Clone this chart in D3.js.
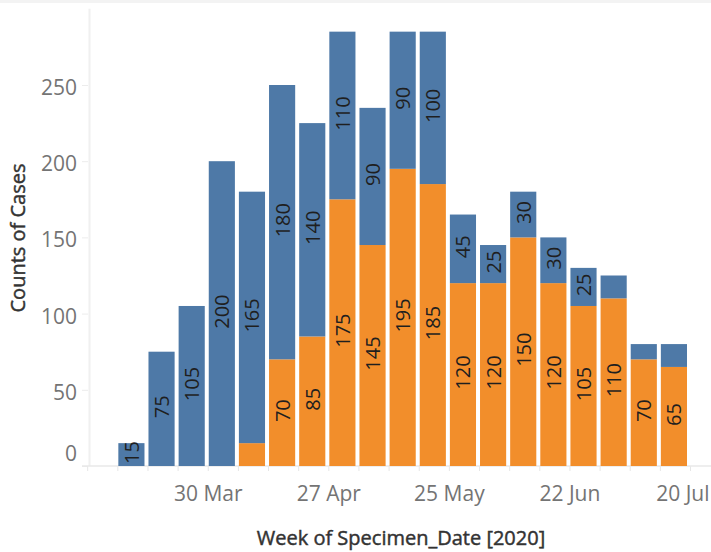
<!DOCTYPE html>
<html>
<head>
<meta charset="utf-8">
<script src="https://cdn.jsdelivr.net/npm/d3@7"></script>
<style>
  html, body { margin: 0; padding: 0; background: #fff; }
  svg { display: block; }
  text { font-family: "Open Sans", "Noto Sans", sans-serif; }
</style>
</head>
<body>
<svg id="chart" width="711" height="552"></svg>
<script>
// ---- data ----
const weeks = ["2020-03-09","2020-03-16","2020-03-23","2020-03-30","2020-04-06","2020-04-13",
  "2020-04-20","2020-04-27","2020-05-04","2020-05-11","2020-05-18","2020-05-25","2020-06-01",
  "2020-06-08","2020-06-15","2020-06-22","2020-06-29","2020-07-06","2020-07-13"];
const orangeValues = [0, 0, 0, 0, 15, 70, 85, 175, 145, 195, 185, 120, 120, 150, 120, 105, 110, 70, 65];
const blueValues   = [15, 75, 105, 200, 165, 180, 140, 110, 90, 90, 100, 45, 25, 30, 30, 25, 15, 10, 15];
const yTicks = [0, 50, 100, 150, 200, 250];
const xTickLabels = ["2020-03-30","2020-04-27","2020-05-25","2020-06-22","2020-07-20"];
const yTitle = "Counts of Cases";
const xTitle = "Week of Specimen_Date [2020]";

const BLUE = "#4e79a7", ORANGE = "#f28e2b";
const parse = d3.utcParse("%Y-%m-%d");
const svg = d3.select("#chart");

// top strip
svg.append("rect").attr("x", 0).attr("y", 0).attr("width", 711).attr("height", 3).attr("fill", "#f3f3f3");

const x = d3.scaleUtc().domain([parse("2020-03-02"), parse("2020-07-20")]).range([87.2, 690]);
const y = d3.scaleLinear().domain([0, 300]).range([466, 8.8]);

// axis lines
svg.append("line").attr("x1", 89.5).attr("x2", 89.5).attr("y1", y(300)).attr("y2", 466)
  .attr("stroke", "#f0f0f0").attr("stroke-width", 2);

// y axis
const yAxis = d3.axisLeft(y).tickValues(yTicks).tickSize(6).tickPadding(6).tickFormat(d3.format("d"));
const gy = svg.append("g").attr("transform", "translate(88,0)").call(yAxis);
gy.select(".domain").remove();
gy.selectAll(".tick line").attr("stroke", "#ececec");
gy.selectAll(".tick text").attr("fill", "#747474").style("font-size", "21px")
  .attr("x", -11).attr("dy", "0.36em")
  .attr("transform", d => d === 0 ? "translate(0,-13)" : "translate(0,2)");

// x axis (weekly ticks)
const weekTicks = d3.utcMonday.range(parse("2020-03-02"), parse("2020-07-21"));
const labelSet = new Set(xTickLabels);
const fmt = d3.utcFormat("%Y-%m-%d");
const xAxis = d3.axisBottom(x).tickValues(weekTicks).tickSize(5).tickPadding(15)
  .tickFormat(d => labelSet.has(fmt(d)) ? d3.utcFormat("%-d %b")(d) : "");
const gx = svg.append("g").attr("transform", "translate(0,466)").call(xAxis);
gx.select(".domain").remove();
gx.selectAll(".tick line").attr("stroke", "#e6e6e6");
gx.selectAll(".tick text").attr("fill", "#747474").style("font-size", "21px")
  .each(function(d) {
    // keep the last label inside the frame, as the reference does
    if (fmt(d) === xTickLabels[xTickLabels.length - 1]) {
      const t = d3.select(this);
      const w = this.getComputedTextLength();
      const tx = x(d);
      if (tx + w / 2 > 709) t.attr("text-anchor", "end").attr("x", 709 - tx);
    }
  });
svg.append("line").attr("x1", 82).attr("x2", 711).attr("y1", 466).attr("y2", 466)
  .attr("stroke", "#e8e8e8").attr("stroke-width", 1.5);

// bars
const data = weeks.map((w, i) => ({ date: parse(w), orange: orangeValues[i], blue: blueValues[i] }));
const barX = d => x(d.date) + 1;
const barW = d => x(d3.utcDay.offset(d.date, 7)) - x(d.date) - 4;

const gBars = svg.append("g");
gBars.selectAll("rect.o").data(data).join("rect").attr("class", "o")
  .attr("x", barX).attr("width", barW)
  .attr("y", d => y(d.orange)).attr("height", d => y(0) - y(d.orange))
  .attr("fill", ORANGE);
gBars.selectAll("rect.b").data(data).join("rect").attr("class", "b")
  .attr("x", barX).attr("width", barW)
  .attr("y", d => y(d.orange + d.blue)).attr("height", d => y(d.orange) - y(d.orange + d.blue))
  .attr("fill", BLUE);

// labels
const labels = [];
data.forEach(d => {
  if (d.orange > 0 && (d.orange >= 20 || d.blue === 0))
    labels.push({ d, v: d.orange, lo: 0, hi: d.orange });
  if (d.blue > 0 && (d.blue >= 20 || d.orange === 0))
    labels.push({ d, v: d.blue, lo: d.orange, hi: d.orange + d.blue });
});
svg.append("g").selectAll("text").data(labels).join("text")
  .attr("transform", l => {
    const cx = barX(l.d) + barW(l.d) / 2 + 0.5;
    const cy = (y(l.lo) + y(l.hi)) / 2 - 2;
    return `translate(${cx},${cy}) rotate(-90)`;
  })
  .attr("text-anchor", "middle").attr("dy", "0.35em")
  .attr("fill", "#1f1f1f").style("font-size", "20px")
  .text(l => l.v);

// titles
svg.append("text").attr("transform", "translate(25,238) rotate(-90)")
  .attr("text-anchor", "middle").attr("fill", "#333").attr("stroke", "#333").attr("stroke-width", 0.45)
  .style("font-size", "20px")
  .text(yTitle);
svg.append("text").attr("x", 401).attr("y", 545)
  .attr("text-anchor", "middle").attr("fill", "#333").attr("stroke", "#333").attr("stroke-width", 0.45)
  .style("font-size", "20px")
  .text(xTitle);
</script>
</body>
</html>
